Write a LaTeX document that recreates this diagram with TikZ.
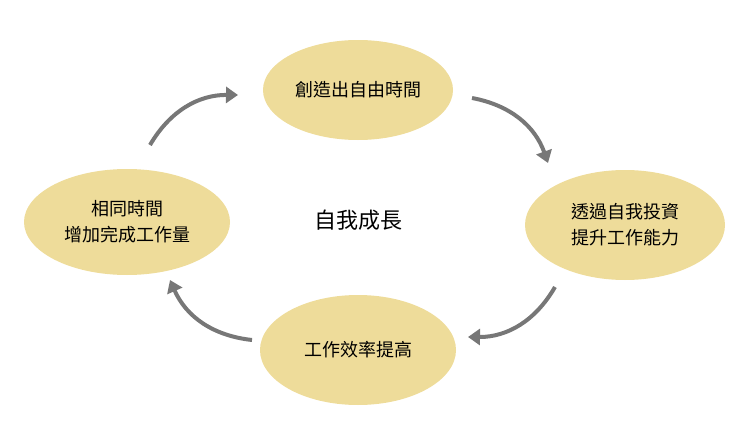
\documentclass[tikz,border=0pt]{standalone}
\usepackage{fontspec}
\newfontfamily\cjk{Noto Sans CJK TC}
\usetikzlibrary{shapes.geometric,arrows.meta}
\tikzset{
  stage/.style={ellipse, fill=stagefill, minimum width=#1, align=center, font=\cjk\fontsize{9}{13}\selectfont, inner sep=0pt},
  cycle arrow/.style={draw=arrowgray, line width=2pt, -{Triangle[length=6pt,width=8pt]}}
}
\definecolor{stagefill}{HTML}{EEDC9A}
\definecolor{arrowgray}{HTML}{777777}
\begin{document}
\begin{tikzpicture}[x=0.5pt,y=-0.5pt]
  \useasboundingbox (0,0) rectangle (740,439);

  \node[stage=95pt, minimum height=50pt] (create) at (358,90) {創造出自由時間};
  \node[stage=100pt, minimum height=55pt] (invest) at (625,225) {透過自我投資\\提升工作能力};
  \node[stage=98pt, minimum height=55pt] (effic) at (358,350) {工作效率提高};
  \node[stage=103pt, minimum height=53pt] (more) at (127,222) {相同時間\\增加完成工作量};
  \node[font=\cjk\fontsize{11}{13}\selectfont] (grow) at (358,220) {自我成長};

  \coordinate (a1) at (150,145); \coordinate (a2) at (238,95);
  \coordinate (b1) at (472,98);  \coordinate (b2) at (548,163);
  \coordinate (c1) at (555,287); \coordinate (c2) at (468,337);
  \coordinate (d1) at (252,340); \coordinate (d2) at (170,280);

  \draw[cycle arrow] (a1) to[bend left=30] (a2);
  \draw[cycle arrow] (b1) to[bend left=30] (b2);
  \draw[cycle arrow] (c1) to[bend left=30] (c2);
  \draw[cycle arrow] (d1) to[bend left=30] (d2);
\end{tikzpicture}
\end{document}
